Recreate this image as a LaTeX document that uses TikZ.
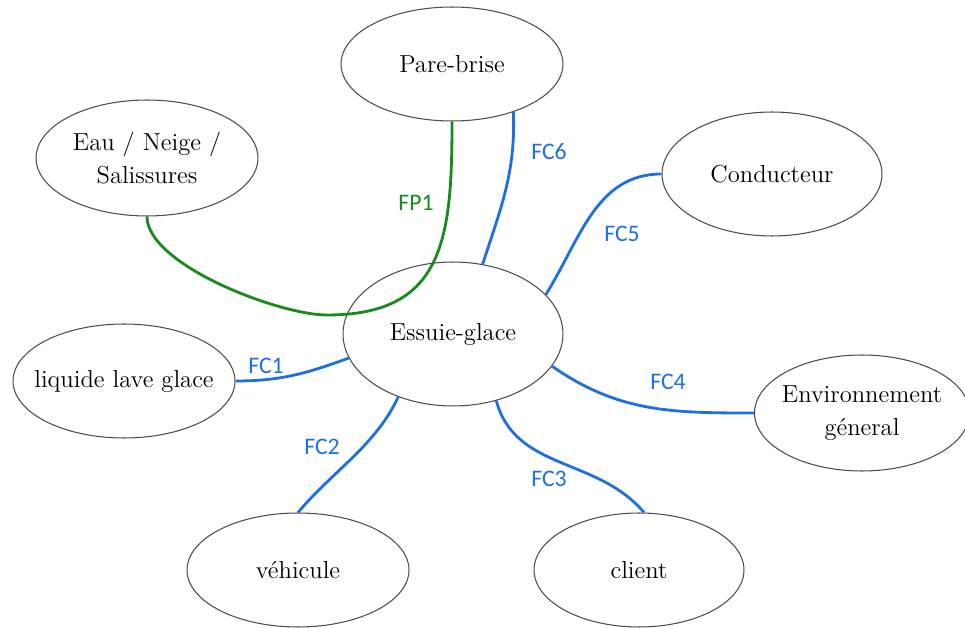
\documentclass[tikz,border=0pt]{standalone}
\usepackage{fontspec}
\usetikzlibrary{shapes.geometric}
\newfontfamily\lblfont{Carlito}
\definecolor{fcblue}{RGB}{30,112,226}
\definecolor{fpgreen}{RGB}{24,138,30}
\begin{document}
\begin{tikzpicture}[x=0.02cm,y=-0.02cm,
    elem/.style={ellipse,draw=black!70,line width=0.6pt,inner xsep=-10pt,inner ysep=0pt,
        align=center,font=\fontsize{14}{19}\selectfont},
    fc/.style={fcblue,line width=1.6pt},
    fp/.style={fpgreen,line width=1.6pt},
    lbl/.style={font=\lblfont\fontsize{13.5}{15}\selectfont,inner sep=0pt}]
    \useasboundingbox (0,0) rectangle (965,628);

    \node[elem,minimum width=4.44cm,minimum height=2.28cm] (pare) at (452,64) {Pare-brise};
    \node[elem,minimum width=4.44cm,minimum height=2.32cm] (eau) at (147,158) {Eau / Neige /\\Salissures};
    \node[elem,minimum width=4.4cm,minimum height=2.48cm] (cond) at (772,174) {Conducteur};
    \node[elem,minimum width=4.4cm,minimum height=2.88cm] (essuie) at (453,334) {Essuie-glace};
    \node[elem,minimum width=4.44cm,minimum height=2.28cm] (liquide) at (124,381) {liquide lave glace};
    \node[elem,minimum width=4.3cm,minimum height=2.32cm] (env) at (862,413) {Environnement\\géneral};
    \node[elem,minimum width=4.44cm,minimum height=2.28cm] (vehicule) at (298,570) {véhicule};
    \node[elem,minimum width=4.2cm,minimum height=2.28cm] (client) at (639,570) {client};

    \coordinate (fpbas) at (327,315);
    \draw[fp] (pare.south) to[out=-90,in=0,looseness=1.3] (fpbas)
        to[out=180,in=-90,looseness=0.6] (eau.south);

    \draw[fc] (pare.-38) to[out=-88,in=72] (essuie.67);
    \draw[fc] (essuie.23) to[out=58,in=180] (cond.west);
    \draw[fc] (essuie.-18) to[out=-35,in=180] (env.west);
    \draw[fc] (essuie.-57) to[out=-75,in=130] (client.85);
    \draw[fc] (essuie.-131) to[out=-115,in=50,looseness=0.9] (vehicule.north);
    \draw[fc] (liquide.east) to[out=0,in=200] (essuie.193);

    \node[lbl,fpgreen] (fp1) at (416,203) {FP1};
    \node[lbl,fcblue] (fc1) at (266,366) {FC1};
    \node[lbl,fcblue] (fc2) at (322,447) {FC2};
    \node[lbl,fcblue] (fc3) at (549,479) {FC3};
    \node[lbl,fcblue] (fc4) at (668,382) {FC4};
    \node[lbl,fcblue] (fc5) at (622,234) {FC5};
    \node[lbl,fcblue] (fc6) at (549,152) {FC6};

\end{tikzpicture}
\end{document}
